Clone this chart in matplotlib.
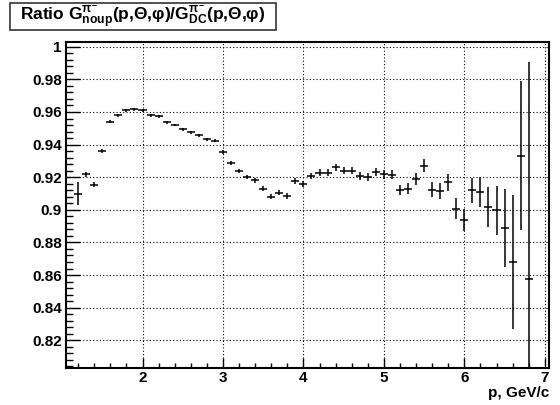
import numpy as np
import matplotlib.pyplot as plt
from matplotlib.patches import Rectangle
from matplotlib.ticker import MultipleLocator, FormatStrFormatter

plt.rcParams['font.family'] = ['Liberation Sans', 'DejaVu Sans']
plt.rcParams['font.weight'] = 'bold'
plt.rcParams['mathtext.fontset'] = 'custom'
plt.rcParams['mathtext.rm'] = 'Liberation Sans:bold'
plt.rcParams['mathtext.bf'] = 'Liberation Sans:bold'
plt.rcParams['mathtext.it'] = 'Liberation Sans'

# momentum bins (GeV/c), bin width 0.1
p = np.round(np.arange(1.2, 6.85, 0.1), 1)

ratio = [0.910, 0.9217, 0.9153, 0.9363, 0.954, 0.958, 0.961, 0.9617, 0.961, 0.958,
         0.9574, 0.9537, 0.952, 0.9494, 0.9476, 0.9457, 0.9433, 0.9423, 0.9355, 0.9286,
         0.9237, 0.920, 0.918, 0.9129, 0.908, 0.9106, 0.9086, 0.9176, 0.9159, 0.9206,
         0.9228, 0.9228, 0.9261, 0.924, 0.924, 0.9208, 0.920, 0.9232, 0.9218, 0.9216,
         0.9123, 0.913, 0.9188, 0.927, 0.9123, 0.9114, 0.9168, 0.9008, 0.8938, 0.9119,
         0.911, 0.9017, 0.8996, 0.8889, 0.8678, 0.9333, 0.8576]

ratio_err = [0.0068, 0.0017, 0.0015, 0.0012, 0.0010, 0.0008, 0.0008, 0.0008, 0.0008, 0.0008,
             0.0008, 0.0008, 0.0008, 0.0008, 0.0008, 0.0009, 0.0010, 0.0010, 0.0012, 0.0012,
             0.0013, 0.0013, 0.0014, 0.0015, 0.0016, 0.0017, 0.0018, 0.0019, 0.0020, 0.0020,
             0.0021, 0.0021, 0.0022, 0.0023, 0.0023, 0.0024, 0.0024, 0.0025, 0.0026, 0.0027,
             0.0031, 0.0034, 0.0035, 0.0039, 0.0046, 0.0049, 0.0052, 0.0065, 0.0066, 0.0077,
             0.0092, 0.0120, 0.0152, 0.0240, 0.0410, 0.0456, 0.1330]

fig = plt.figure(figsize=(5.6, 4.05), dpi=100)
ax = fig.add_axes([0.118, 0.0906, 0.862, 0.8064])

ax.errorbar(p, ratio, yerr=ratio_err, xerr=0.05, fmt='none',
            ecolor='black', elinewidth=1.1, capsize=0, zorder=3)

ax.set_xlim(1.05, 7.05)
ax.set_ylim(0.8028, 1.0031)

ax.xaxis.set_major_locator(MultipleLocator(1))
ax.xaxis.set_minor_locator(MultipleLocator(0.2))
ax.yaxis.set_major_locator(MultipleLocator(0.02))
ax.yaxis.set_minor_locator(MultipleLocator(0.004))
ax.yaxis.set_major_formatter(FormatStrFormatter('%g'))

ax.tick_params(axis='both', which='both', direction='in', labelsize=11, width=1)
ax.tick_params(axis='x', which='major', length=7, pad=2)
ax.tick_params(axis='x', which='minor', length=3.5)
ax.tick_params(axis='y', which='major', length=10.4, pad=3)
ax.tick_params(axis='y', which='minor', length=5.2)
for lab in ax.get_xticklabels() + ax.get_yticklabels():
    lab.set_fontweight('bold')

ax.grid(True, which='major', color='black', linestyle=(0, (1, 2)), linewidth=0.8)
for s in ax.spines.values():
    s.set_linewidth(1.5)

fig.text(549 / 560, 1 - 397 / 405, 'p, GeV/c', ha='right', va='baseline',
         fontsize=11, fontweight='bold')

# title box
fig.patches.append(Rectangle((10 / 560, 1 - 30 / 405), 266 / 560, 27 / 405,
                             transform=fig.transFigure, facecolor='white',
                             edgecolor='#333333', linewidth=1.2))
fig.text(143 / 560, 1 - 17 / 405,
         r'Ratio G$^{\pi^{-}}_{\mathrm{noup}}$(p,$\Theta$,$\varphi$)/G$^{\pi^{-}}_{\mathrm{DC}}$(p,$\Theta$,$\varphi$)',
         ha='center', va='center', fontsize=12.5, fontweight='bold')

fig.savefig('out.png', dpi=100)
